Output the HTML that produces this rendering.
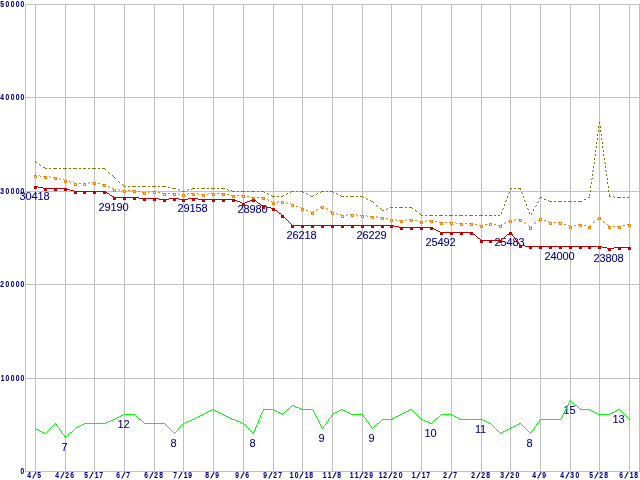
<!DOCTYPE html>
<html lang="en"><head><meta charset="utf-8"><title>chart</title>
<style>
html,body{margin:0;padding:0;background:#fff;overflow:hidden}
svg{display:block}
.ax{font-family:"Liberation Sans",sans-serif;font-weight:bold;font-size:8.4px;fill:#000080;stroke:#000080;stroke-width:0.1px}
.lb{font-family:"Liberation Sans",sans-serif;font-size:11px;fill:#000080;stroke:#000080;stroke-width:0.08px;text-anchor:middle;letter-spacing:-0.12px}
</style></head><body>
<svg width="640" height="480" viewBox="0 0 640 480">
<rect width="640" height="480" fill="#fff"/>
<g fill="#c0c0c0" shape-rendering="crispEdges">
<rect x="25" y="4" width="615" height="1"/><rect x="25" y="97" width="615" height="1"/><rect x="25" y="191" width="615" height="1"/><rect x="25" y="284" width="615" height="1"/><rect x="25" y="378" width="615" height="1"/><rect x="25" y="471" width="615" height="1"/>
<rect x="25" y="4" width="1" height="468"/><rect x="639" y="4" width="1" height="468"/>
<rect x="35" y="4" width="1" height="468"/><rect x="65" y="4" width="1" height="468"/><rect x="94" y="4" width="1" height="468"/><rect x="124" y="4" width="1" height="468"/><rect x="154" y="4" width="1" height="468"/><rect x="183" y="4" width="1" height="468"/><rect x="213" y="4" width="1" height="468"/><rect x="243" y="4" width="1" height="468"/><rect x="273" y="4" width="1" height="468"/><rect x="302" y="4" width="1" height="468"/><rect x="332" y="4" width="1" height="468"/><rect x="362" y="4" width="1" height="468"/><rect x="391" y="4" width="1" height="468"/><rect x="421" y="4" width="1" height="468"/><rect x="451" y="4" width="1" height="468"/><rect x="481" y="4" width="1" height="468"/><rect x="510" y="4" width="1" height="468"/><rect x="540" y="4" width="1" height="468"/><rect x="570" y="4" width="1" height="468"/><rect x="599" y="4" width="1" height="468"/><rect x="629" y="4" width="1" height="468"/>
</g>
<g class="ax">
<text transform="translate(0,7) scale(0.8,1)" y="0"><tspan x="0.29">5</tspan><tspan x="7.04">0</tspan><tspan x="13.29">0</tspan><tspan x="19.54">0</tspan><tspan x="25.79">0</tspan></text><text transform="translate(0,100) scale(0.8,1)" y="0"><tspan x="0.29">4</tspan><tspan x="7.04">0</tspan><tspan x="13.29">0</tspan><tspan x="19.54">0</tspan><tspan x="25.79">0</tspan></text><text transform="translate(0,194) scale(0.8,1)" y="0"><tspan x="0.29">3</tspan><tspan x="7.04">0</tspan><tspan x="13.29">0</tspan><tspan x="19.54">0</tspan><tspan x="25.79">0</tspan></text><text transform="translate(0,287) scale(0.8,1)" y="0"><tspan x="0.29">2</tspan><tspan x="7.04">0</tspan><tspan x="13.29">0</tspan><tspan x="19.54">0</tspan><tspan x="25.79">0</tspan></text><text transform="translate(0,381) scale(0.8,1)" y="0"><tspan x="0.91">1</tspan><tspan x="7.04">0</tspan><tspan x="13.29">0</tspan><tspan x="19.54">0</tspan><tspan x="25.79">0</tspan></text><text transform="translate(0,474) scale(0.8,1)" y="0"><tspan x="25.79">0</tspan></text>
<text transform="translate(0,478) scale(0.8,1)" y="0"><tspan x="34.04">4</tspan><tspan x="40.37" rotate="23" font-size="10">/</tspan><tspan x="46.54">5</tspan></text><text transform="translate(0,478) scale(0.8,1)" y="0"><tspan x="69.04">4</tspan><tspan x="75.37" rotate="23" font-size="10">/</tspan><tspan x="81.54">2</tspan><tspan x="87.79">6</tspan></text><text transform="translate(0,478) scale(0.8,1)" y="0"><tspan x="105.29">5</tspan><tspan x="111.62" rotate="23" font-size="10">/</tspan><tspan x="118.41">1</tspan><tspan x="124.04">7</tspan></text><text transform="translate(0,478) scale(0.8,1)" y="0"><tspan x="145.29">6</tspan><tspan x="151.62" rotate="23" font-size="10">/</tspan><tspan x="157.79">7</tspan></text><text transform="translate(0,478) scale(0.8,1)" y="0"><tspan x="180.29">6</tspan><tspan x="186.62" rotate="23" font-size="10">/</tspan><tspan x="192.79">2</tspan><tspan x="199.04">8</tspan></text><text transform="translate(0,478) scale(0.8,1)" y="0"><tspan x="216.54">7</tspan><tspan x="222.88" rotate="23" font-size="10">/</tspan><tspan x="229.66">1</tspan><tspan x="235.29">9</tspan></text><text transform="translate(0,478) scale(0.8,1)" y="0"><tspan x="256.54">8</tspan><tspan x="262.88" rotate="23" font-size="10">/</tspan><tspan x="269.04">9</tspan></text><text transform="translate(0,478) scale(0.8,1)" y="0"><tspan x="294.04">9</tspan><tspan x="300.38" rotate="23" font-size="10">/</tspan><tspan x="306.54">6</tspan></text><text transform="translate(0,478) scale(0.8,1)" y="0"><tspan x="329.04">9</tspan><tspan x="335.38" rotate="23" font-size="10">/</tspan><tspan x="341.54">2</tspan><tspan x="347.79">7</tspan></text><text transform="translate(0,478) scale(0.8,1)" y="0"><tspan x="362.16">1</tspan><tspan x="368.29">0</tspan><tspan x="374.12" rotate="23" font-size="10">/</tspan><tspan x="380.91">1</tspan><tspan x="386.54">8</tspan></text><text transform="translate(0,478) scale(0.8,1)" y="0"><tspan x="403.41">1</tspan><tspan x="409.66">1</tspan><tspan x="415.38" rotate="23" font-size="10">/</tspan><tspan x="421.54">8</tspan></text><text transform="translate(0,478) scale(0.8,1)" y="0"><tspan x="437.16">1</tspan><tspan x="443.41">1</tspan><tspan x="449.12" rotate="23" font-size="10">/</tspan><tspan x="455.29">2</tspan><tspan x="461.54">9</tspan></text><text transform="translate(0,478) scale(0.8,1)" y="0"><tspan x="473.41">1</tspan><tspan x="479.04">2</tspan><tspan x="485.38" rotate="23" font-size="10">/</tspan><tspan x="491.54">2</tspan><tspan x="498.29">0</tspan></text><text transform="translate(0,478) scale(0.8,1)" y="0"><tspan x="514.66">1</tspan><tspan x="520.38" rotate="23" font-size="10">/</tspan><tspan x="527.16">1</tspan><tspan x="532.79">7</tspan></text><text transform="translate(0,478) scale(0.8,1)" y="0"><tspan x="554.04">2</tspan><tspan x="560.38" rotate="23" font-size="10">/</tspan><tspan x="566.54">7</tspan></text><text transform="translate(0,478) scale(0.8,1)" y="0"><tspan x="589.04">2</tspan><tspan x="595.38" rotate="23" font-size="10">/</tspan><tspan x="601.54">2</tspan><tspan x="607.79">8</tspan></text><text transform="translate(0,478) scale(0.8,1)" y="0"><tspan x="625.29">3</tspan><tspan x="631.62" rotate="23" font-size="10">/</tspan><tspan x="637.79">2</tspan><tspan x="644.54">0</tspan></text><text transform="translate(0,478) scale(0.8,1)" y="0"><tspan x="665.29">4</tspan><tspan x="671.62" rotate="23" font-size="10">/</tspan><tspan x="677.79">9</tspan></text><text transform="translate(0,478) scale(0.8,1)" y="0"><tspan x="700.29">4</tspan><tspan x="706.62" rotate="23" font-size="10">/</tspan><tspan x="712.79">3</tspan><tspan x="719.54">0</tspan></text><text transform="translate(0,478) scale(0.8,1)" y="0"><tspan x="736.54">5</tspan><tspan x="742.87" rotate="23" font-size="10">/</tspan><tspan x="749.04">2</tspan><tspan x="755.29">8</tspan></text><text transform="translate(0,478) scale(0.8,1)" y="0"><tspan x="774.04">6</tspan><tspan x="780.37" rotate="23" font-size="10">/</tspan><tspan x="787.16">1</tspan><tspan x="792.79">8</tspan></text>
</g>
<g class="lb">
<text x="34.5" y="200">30418</text><text x="113.5" y="211">29190</text><text x="192.5" y="212">29158</text><text x="252.5" y="213">28980</text><text x="301.5" y="239">26218</text><text x="371.5" y="239">26229</text><text x="440.5" y="246">25492</text><text x="509.5" y="246">25483</text><text x="559.5" y="260">24000</text><text x="608.5" y="262">23808</text><text x="64.5" y="451">7</text><text x="123.5" y="428">12</text><text x="173.5" y="447">8</text><text x="252.5" y="447">8</text><text x="321.5" y="442">9</text><text x="371.5" y="442">9</text><text x="430.5" y="437">10</text><text x="480.5" y="433">11</text><text x="529.5" y="447">8</text><text x="569.5" y="414">15</text><text x="618.5" y="423">13</text>
</g>
<path fill="none" stroke="#00ff00" stroke-width="1" shape-rendering="crispEdges" d="M570 400.5h1M569 401.5h1M571 401.5h1M569 402.5h1M572 402.5h1M568 403.5h1M573 403.5h1M568 404.5h1M574 404.5h1M292 405.5h2M567 405.5h1M575 405.5h2M291 406.5h1M294 406.5h2M567 406.5h1M577 406.5h1M290 407.5h1M296 407.5h3M566 407.5h1M578 407.5h1M289 408.5h1M299 408.5h2M566 408.5h1M579 408.5h1M212 409.5h2M263 409.5h11M287 409.5h2M301 409.5h12M341 409.5h2M410 409.5h2M565 409.5h1M580 409.5h10M618 409.5h2M210 410.5h2M214 410.5h2M263 410.5h1M274 410.5h2M286 410.5h1M313 410.5h1M339 410.5h2M343 410.5h2M408 410.5h2M412 410.5h1M565 410.5h1M590 410.5h2M616 410.5h2M620 410.5h1M208 411.5h2M216 411.5h2M262 411.5h1M276 411.5h2M285 411.5h1M313 411.5h1M337 411.5h2M345 411.5h2M406 411.5h2M413 411.5h1M564 411.5h1M592 411.5h2M614 411.5h2M621 411.5h1M206 412.5h2M218 412.5h2M262 412.5h1M278 412.5h2M284 412.5h1M314 412.5h1M335 412.5h2M347 412.5h2M404 412.5h2M414 412.5h1M564 412.5h1M594 412.5h2M612 412.5h2M622 412.5h1M204 413.5h2M220 413.5h2M261 413.5h1M280 413.5h2M283 413.5h1M314 413.5h1M333 413.5h2M349 413.5h2M402 413.5h2M415 413.5h1M563 413.5h1M596 413.5h2M610 413.5h2M623 413.5h1M123 414.5h12M202 414.5h2M222 414.5h2M261 414.5h1M282 414.5h1M315 414.5h1M332 414.5h1M351 414.5h12M400 414.5h2M416 414.5h1M441 414.5h11M563 414.5h1M598 414.5h12M624 414.5h1M121 415.5h2M135 415.5h1M200 415.5h2M224 415.5h2M260 415.5h1M315 415.5h1M331 415.5h1M363 415.5h1M398 415.5h2M417 415.5h1M440 415.5h1M452 415.5h2M562 415.5h1M625 415.5h1M119 416.5h2M136 416.5h1M198 416.5h2M226 416.5h2M260 416.5h1M316 416.5h1M331 416.5h1M363 416.5h1M396 416.5h2M418 416.5h1M439 416.5h1M454 416.5h2M562 416.5h1M626 416.5h1M117 417.5h2M137 417.5h1M196 417.5h2M228 417.5h2M260 417.5h1M316 417.5h1M330 417.5h1M364 417.5h1M394 417.5h2M419 417.5h1M438 417.5h1M456 417.5h2M561 417.5h1M627 417.5h1M115 418.5h2M138 418.5h1M194 418.5h2M230 418.5h2M259 418.5h1M317 418.5h1M329 418.5h1M365 418.5h1M392 418.5h2M420 418.5h1M436 418.5h2M458 418.5h2M561 418.5h1M628 418.5h1M113 419.5h2M139 419.5h2M192 419.5h2M232 419.5h3M259 419.5h1M317 419.5h1M328 419.5h1M366 419.5h1M382 419.5h10M421 419.5h2M435 419.5h1M460 419.5h23M540 419.5h21M629 419.5h1M111 420.5h2M141 420.5h1M190 420.5h2M235 420.5h2M258 420.5h1M318 420.5h1M328 420.5h1M366 420.5h1M381 420.5h1M423 420.5h2M434 420.5h1M483 420.5h2M539 420.5h1M108 421.5h3M142 421.5h1M187 421.5h3M237 421.5h3M258 421.5h1M318 421.5h1M327 421.5h1M367 421.5h1M380 421.5h1M425 421.5h3M433 421.5h1M485 421.5h2M539 421.5h1M106 422.5h2M143 422.5h1M185 422.5h2M240 422.5h2M258 422.5h1M319 422.5h1M326 422.5h1M368 422.5h1M379 422.5h1M428 422.5h2M432 422.5h1M487 422.5h2M538 422.5h1M55 423.5h1M84 423.5h22M144 423.5h21M183 423.5h2M242 423.5h2M257 423.5h1M319 423.5h1M326 423.5h1M368 423.5h1M377 423.5h2M430 423.5h2M489 423.5h2M519 423.5h2M537 423.5h1M54 424.5h1M56 424.5h1M82 424.5h2M165 424.5h1M182 424.5h1M244 424.5h1M257 424.5h1M320 424.5h1M325 424.5h1M369 424.5h1M376 424.5h1M491 424.5h1M517 424.5h2M521 424.5h1M536 424.5h1M53 425.5h1M56 425.5h1M80 425.5h2M166 425.5h1M181 425.5h1M245 425.5h1M256 425.5h1M320 425.5h1M324 425.5h1M370 425.5h1M375 425.5h1M492 425.5h1M515 425.5h2M522 425.5h1M536 425.5h1M52 426.5h1M57 426.5h1M78 426.5h2M167 426.5h1M180 426.5h1M246 426.5h1M256 426.5h1M321 426.5h1M323 426.5h1M371 426.5h1M374 426.5h1M493 426.5h1M513 426.5h2M523 426.5h1M535 426.5h1M51 427.5h1M58 427.5h1M76 427.5h2M168 427.5h1M179 427.5h1M247 427.5h1M255 427.5h1M321 427.5h1M323 427.5h1M371 427.5h1M373 427.5h1M494 427.5h1M511 427.5h2M524 427.5h1M534 427.5h1M35 428.5h1M50 428.5h1M59 428.5h1M75 428.5h1M169 428.5h1M178 428.5h1M248 428.5h1M255 428.5h1M322 428.5h1M372 428.5h1M495 428.5h1M509 428.5h2M525 428.5h1M534 428.5h1M36 429.5h2M49 429.5h1M59 429.5h1M74 429.5h1M170 429.5h1M178 429.5h1M249 429.5h1M255 429.5h1M496 429.5h1M507 429.5h2M526 429.5h1M533 429.5h1M38 430.5h2M48 430.5h1M60 430.5h1M73 430.5h1M171 430.5h1M177 430.5h1M250 430.5h1M254 430.5h1M497 430.5h1M505 430.5h2M527 430.5h1M532 430.5h1M40 431.5h2M47 431.5h1M61 431.5h1M72 431.5h1M172 431.5h1M176 431.5h1M251 431.5h1M254 431.5h1M498 431.5h1M503 431.5h2M528 431.5h1M531 431.5h1M42 432.5h2M46 432.5h1M61 432.5h1M70 432.5h2M173 432.5h1M175 432.5h1M252 432.5h2M499 432.5h1M501 432.5h2M529 432.5h1M531 432.5h1M44 433.5h2M62 433.5h1M69 433.5h1M174 433.5h1M253 433.5h1M500 433.5h1M530 433.5h1M63 434.5h1M68 434.5h1M64 435.5h1M67 435.5h1M64 436.5h1M66 436.5h1M65 437.5h1"/>
<path fill="none" stroke="#808000" stroke-width="1" shape-rendering="crispEdges" d="M599 122.5h1M599 123.5h1M598 126.5h1M600 126.5h1M598 127.5h1M600 127.5h1M598 130.5h1M600 130.5h1M598 131.5h1M600 131.5h1M597 134.5h1M601 134.5h1M597 135.5h1M601 135.5h1M597 138.5h1M601 138.5h1M597 139.5h1M601 139.5h1M596 142.5h1M602 142.5h1M596 143.5h1M602 143.5h1M596 146.5h1M602 146.5h1M596 147.5h1M602 147.5h1M595 150.5h1M603 150.5h1M595 151.5h1M603 151.5h1M595 154.5h1M603 154.5h1M595 155.5h1M603 155.5h1M594 158.5h1M604 158.5h1M594 159.5h1M604 159.5h1M35 161.5h1M36 162.5h1M594 162.5h1M604 162.5h1M594 163.5h1M605 163.5h1M39 164.5h1M40 165.5h1M593 166.5h1M605 166.5h1M43 167.5h2M593 167.5h1M605 167.5h1M45 168.5h2M49 168.5h2M53 168.5h4M59 168.5h2M63 168.5h4M69 168.5h2M73 168.5h4M79 168.5h2M83 168.5h3M88 168.5h2M92 168.5h4M98 168.5h2M102 168.5h3M105 169.5h1M593 170.5h1M605 170.5h1M592 171.5h1M606 171.5h1M108 172.5h1M109 173.5h1M592 174.5h1M606 174.5h1M112 175.5h1M592 175.5h1M606 175.5h1M113 176.5h1M114 177.5h1M115 178.5h1M592 178.5h1M607 178.5h1M591 179.5h1M607 179.5h1M118 181.5h1M119 182.5h1M591 182.5h1M607 182.5h1M591 183.5h1M607 183.5h1M122 184.5h1M123 185.5h1M124 186.5h2M128 186.5h2M132 186.5h4M138 186.5h2M142 186.5h4M148 186.5h2M152 186.5h4M158 186.5h2M162 186.5h4M590 186.5h1M608 186.5h1M168 187.5h2M590 187.5h1M608 187.5h1M172 188.5h4M192 188.5h3M197 188.5h2M201 188.5h4M207 188.5h2M211 188.5h4M217 188.5h2M221 188.5h4M510 188.5h2M514 188.5h2M518 188.5h3M178 189.5h1M188 189.5h1M191 189.5h1M227 189.5h1M510 189.5h1M520 189.5h1M179 190.5h1M187 190.5h1M228 190.5h1M231 190.5h1M590 190.5h1M608 190.5h1M182 191.5h3M232 191.5h3M237 191.5h2M241 191.5h4M247 191.5h2M251 191.5h4M257 191.5h2M261 191.5h3M291 191.5h3M296 191.5h2M300 191.5h3M321 191.5h3M326 191.5h2M330 191.5h3M590 191.5h1M608 191.5h1M264 192.5h1M290 192.5h1M303 192.5h1M320 192.5h1M333 192.5h1M509 192.5h1M521 192.5h1M267 193.5h1M287 193.5h1M306 193.5h1M317 193.5h1M336 193.5h1M508 193.5h1M522 193.5h1M268 194.5h1M286 194.5h1M307 194.5h1M316 194.5h1M337 194.5h1M589 194.5h1M609 194.5h1M271 195.5h1M283 195.5h1M310 195.5h1M313 195.5h1M340 195.5h1M589 195.5h1M609 195.5h1M272 196.5h3M277 196.5h2M281 196.5h2M311 196.5h2M341 196.5h3M346 196.5h2M350 196.5h4M356 196.5h2M360 196.5h3M507 196.5h1M523 196.5h1M609 196.5h2M613 196.5h1M363 197.5h1M507 197.5h1M523 197.5h1M540 197.5h2M588 197.5h2M614 197.5h1M617 197.5h4M623 197.5h2M627 197.5h2M366 198.5h1M539 198.5h1M367 199.5h1M544 199.5h2M584 199.5h2M370 200.5h1M506 200.5h1M524 200.5h1M548 200.5h1M371 201.5h2M505 201.5h1M525 201.5h1M538 201.5h1M549 201.5h3M554 201.5h2M558 201.5h4M564 201.5h2M568 201.5h4M574 201.5h2M578 201.5h4M373 202.5h1M537 202.5h1M504 204.5h1M526 204.5h1M376 205.5h1M504 205.5h1M526 205.5h1M536 205.5h1M377 206.5h1M535 206.5h1M390 207.5h3M395 207.5h2M399 207.5h4M405 207.5h2M409 207.5h3M380 208.5h1M387 208.5h1M412 208.5h1M503 208.5h1M527 208.5h1M381 209.5h1M386 209.5h1M502 209.5h1M528 209.5h1M533 209.5h1M382 210.5h2M415 210.5h1M533 210.5h1M416 211.5h1M501 212.5h1M529 212.5h1M419 213.5h1M501 213.5h1M529 213.5h1M531 213.5h1M420 214.5h1M531 214.5h1M421 215.5h2M425 215.5h2M429 215.5h4M435 215.5h2M439 215.5h4M445 215.5h2M449 215.5h4M455 215.5h2M459 215.5h4M465 215.5h2M469 215.5h4M475 215.5h2M479 215.5h4M485 215.5h2M489 215.5h3M494 215.5h2M498 215.5h2"/>
<path fill="none" stroke="#ff8000" stroke-width="1" shape-rendering="crispEdges" d="M35 175.5h2M39 175.5h1M40 176.5h1M43 176.5h4M49 176.5h1M50 177.5h1M53 177.5h4M59 178.5h1M60 179.5h1M63 179.5h1M64 180.5h3M69 181.5h1M70 182.5h1M73 182.5h1M89 182.5h1M92 182.5h4M74 183.5h3M79 183.5h2M83 183.5h3M88 183.5h1M98 183.5h2M102 184.5h3M105 185.5h1M108 186.5h1M109 187.5h1M112 188.5h1M113 189.5h3M118 189.5h1M119 190.5h1M122 190.5h4M128 190.5h2M132 190.5h4M138 191.5h2M149 191.5h1M152 191.5h4M142 192.5h4M148 192.5h1M158 192.5h2M162 193.5h4M168 193.5h2M172 193.5h4M178 193.5h1M188 193.5h1M191 193.5h4M197 193.5h1M208 193.5h1M211 193.5h4M217 193.5h2M221 193.5h4M179 194.5h1M182 194.5h3M187 194.5h1M198 194.5h1M201 194.5h4M207 194.5h1M227 194.5h2M231 195.5h4M237 195.5h2M241 195.5h4M247 196.5h2M251 197.5h4M257 197.5h2M261 197.5h3M264 198.5h1M267 199.5h1M268 200.5h1M271 201.5h1M278 201.5h1M281 201.5h3M272 202.5h3M277 202.5h1M286 202.5h1M287 203.5h1M290 203.5h1M291 204.5h3M296 206.5h2M322 206.5h1M300 207.5h1M320 207.5h2M323 207.5h1M301 208.5h3M326 208.5h1M317 209.5h1M327 209.5h1M306 210.5h2M316 210.5h1M310 211.5h1M313 211.5h1M330 211.5h2M311 212.5h2M332 212.5h2M336 213.5h1M337 214.5h1M340 214.5h1M347 214.5h1M350 214.5h4M356 214.5h1M341 215.5h3M346 215.5h1M357 215.5h1M360 215.5h4M366 215.5h1M367 216.5h1M370 216.5h4M376 216.5h1M377 217.5h1M380 217.5h4M599 217.5h1M386 218.5h2M540 218.5h2M598 218.5h1M600 218.5h1M390 219.5h3M395 219.5h1M406 219.5h1M409 219.5h4M515 219.5h1M518 219.5h3M539 219.5h1M597 219.5h1M396 220.5h1M399 220.5h4M405 220.5h1M415 220.5h2M426 220.5h1M429 220.5h4M509 220.5h3M514 220.5h1M521 220.5h1M538 220.5h1M544 220.5h2M419 221.5h4M425 221.5h1M435 221.5h2M508 221.5h1M548 221.5h1M594 221.5h1M603 221.5h1M439 222.5h4M445 222.5h2M449 222.5h4M455 222.5h1M505 222.5h1M524 222.5h1M535 222.5h1M549 222.5h3M554 222.5h2M558 222.5h4M593 222.5h1M604 222.5h1M456 223.5h1M459 223.5h4M465 223.5h2M469 223.5h4M489 223.5h3M504 223.5h1M525 223.5h1M534 223.5h1M475 224.5h2M485 224.5h2M494 224.5h2M501 224.5h1M564 224.5h2M578 224.5h4M607 224.5h1M627 224.5h2M479 225.5h4M498 225.5h3M528 225.5h1M568 225.5h1M574 225.5h2M584 225.5h2M590 225.5h1M608 225.5h1M623 225.5h2M529 226.5h1M531 226.5h1M569 226.5h3M588 226.5h2M609 226.5h2M613 226.5h2M617 226.5h4M530 227.5h1"/>
<g fill="#fff" stroke="#ff8000" stroke-width="1" shape-rendering="crispEdges">
<rect x="34.5" y="175.5" width="2" height="2"/><rect x="44.5" y="176.5" width="2" height="2"/><rect x="54.5" y="177.5" width="2" height="2"/><rect x="64.5" y="180.5" width="2" height="2"/><rect x="74.5" y="183.5" width="2" height="2"/><rect x="83.5" y="183.5" width="2" height="2"/><rect x="93.5" y="182.5" width="2" height="2"/><rect x="103.5" y="184.5" width="2" height="2"/><rect x="113.5" y="189.5" width="2" height="2"/><rect x="123.5" y="190.5" width="2" height="2"/><rect x="133.5" y="190.5" width="2" height="2"/><rect x="143.5" y="192.5" width="2" height="2"/><rect x="153.5" y="191.5" width="2" height="2"/><rect x="163.5" y="193.5" width="2" height="2"/><rect x="173.5" y="193.5" width="2" height="2"/><rect x="182.5" y="194.5" width="2" height="2"/><rect x="192.5" y="193.5" width="2" height="2"/><rect x="202.5" y="194.5" width="2" height="2"/><rect x="212.5" y="193.5" width="2" height="2"/><rect x="222.5" y="193.5" width="2" height="2"/><rect x="232.5" y="195.5" width="2" height="2"/><rect x="242.5" y="195.5" width="2" height="2"/><rect x="252.5" y="197.5" width="2" height="2"/><rect x="262.5" y="197.5" width="2" height="2"/><rect x="272.5" y="202.5" width="2" height="2"/><rect x="281.5" y="201.5" width="2" height="2"/><rect x="291.5" y="204.5" width="2" height="2"/><rect x="301.5" y="208.5" width="2" height="2"/><rect x="311.5" y="212.5" width="2" height="2"/><rect x="321.5" y="206.5" width="2" height="2"/><rect x="331.5" y="212.5" width="2" height="2"/><rect x="341.5" y="215.5" width="2" height="2"/><rect x="351.5" y="214.5" width="2" height="2"/><rect x="361.5" y="215.5" width="2" height="2"/><rect x="371.5" y="216.5" width="2" height="2"/><rect x="381.5" y="217.5" width="2" height="2"/><rect x="390.5" y="219.5" width="2" height="2"/><rect x="400.5" y="220.5" width="2" height="2"/><rect x="410.5" y="219.5" width="2" height="2"/><rect x="420.5" y="221.5" width="2" height="2"/><rect x="430.5" y="220.5" width="2" height="2"/><rect x="440.5" y="222.5" width="2" height="2"/><rect x="450.5" y="222.5" width="2" height="2"/><rect x="460.5" y="223.5" width="2" height="2"/><rect x="470.5" y="223.5" width="2" height="2"/><rect x="480.5" y="225.5" width="2" height="2"/><rect x="489.5" y="223.5" width="2" height="2"/><rect x="499.5" y="225.5" width="2" height="2"/><rect x="509.5" y="220.5" width="2" height="2"/><rect x="519.5" y="219.5" width="2" height="2"/><rect x="529.5" y="227.5" width="2" height="2"/><rect x="539.5" y="218.5" width="2" height="2"/><rect x="549.5" y="222.5" width="2" height="2"/><rect x="559.5" y="222.5" width="2" height="2"/><rect x="569.5" y="226.5" width="2" height="2"/><rect x="579.5" y="224.5" width="2" height="2"/><rect x="588.5" y="226.5" width="2" height="2"/><rect x="598.5" y="217.5" width="2" height="2"/><rect x="608.5" y="226.5" width="2" height="2"/><rect x="618.5" y="226.5" width="2" height="2"/><rect x="628.5" y="224.5" width="2" height="2"/>
</g>
<path fill="none" stroke="#c00000" stroke-width="1" shape-rendering="crispEdges" d="M35 186.5h3M38 187.5h5M43 188.5h24M67 189.5h3M70 190.5h4M74 191.5h31M105 192.5h2M107 193.5h2M109 194.5h1M110 195.5h2M112 196.5h2M114 197.5h25M139 198.5h20M169 198.5h10M188 198.5h10M159 199.5h10M179 199.5h9M198 199.5h37M252 199.5h2M235 200.5h2M250 200.5h2M254 200.5h2M237 201.5h3M247 201.5h3M256 201.5h1M240 202.5h2M245 202.5h2M257 202.5h1M242 203.5h3M258 203.5h2M260 204.5h1M261 205.5h2M263 206.5h3M266 207.5h5M271 208.5h3M274 209.5h1M275 210.5h2M277 211.5h1M278 212.5h1M279 213.5h2M281 214.5h1M282 215.5h1M283 216.5h1M284 217.5h1M285 218.5h1M286 219.5h1M287 220.5h1M288 221.5h1M289 222.5h1M290 223.5h1M291 224.5h1M292 225.5h102M394 226.5h5M399 227.5h33M432 228.5h2M434 229.5h2M436 230.5h2M438 231.5h2M440 232.5h32M510 232.5h1M472 233.5h1M509 233.5h1M511 233.5h1M473 234.5h2M507 234.5h2M512 234.5h1M475 235.5h1M506 235.5h1M512 235.5h1M476 236.5h1M505 236.5h1M513 236.5h1M477 237.5h1M504 237.5h1M514 237.5h1M478 238.5h2M502 238.5h2M515 238.5h1M480 239.5h1M501 239.5h1M515 239.5h1M481 240.5h20M516 240.5h1M517 241.5h1M518 242.5h1M518 243.5h1M519 244.5h1M520 245.5h5M525 246.5h77M602 247.5h5M614 247.5h16M607 248.5h7"/>
<g fill="#c00000" shape-rendering="crispEdges">
<rect x="34" y="186" width="3" height="3"/><rect x="44" y="188" width="3" height="3"/><rect x="54" y="188" width="3" height="3"/><rect x="64" y="188" width="3" height="3"/><rect x="74" y="191" width="3" height="3"/><rect x="83" y="191" width="3" height="3"/><rect x="93" y="191" width="3" height="3"/><rect x="103" y="191" width="3" height="3"/><rect x="113" y="197" width="3" height="3"/><rect x="123" y="197" width="3" height="3"/><rect x="133" y="197" width="3" height="3"/><rect x="143" y="198" width="3" height="3"/><rect x="153" y="198" width="3" height="3"/><rect x="163" y="199" width="3" height="3"/><rect x="173" y="198" width="3" height="3"/><rect x="182" y="199" width="3" height="3"/><rect x="192" y="198" width="3" height="3"/><rect x="202" y="199" width="3" height="3"/><rect x="212" y="199" width="3" height="3"/><rect x="222" y="199" width="3" height="3"/><rect x="232" y="199" width="3" height="3"/><rect x="242" y="203" width="3" height="3"/><rect x="252" y="199" width="3" height="3"/><rect x="262" y="206" width="3" height="3"/><rect x="272" y="208" width="3" height="3"/><rect x="281" y="215" width="3" height="3"/><rect x="291" y="225" width="3" height="3"/><rect x="301" y="225" width="3" height="3"/><rect x="311" y="225" width="3" height="3"/><rect x="321" y="225" width="3" height="3"/><rect x="331" y="225" width="3" height="3"/><rect x="341" y="225" width="3" height="3"/><rect x="351" y="225" width="3" height="3"/><rect x="361" y="225" width="3" height="3"/><rect x="371" y="225" width="3" height="3"/><rect x="381" y="225" width="3" height="3"/><rect x="390" y="225" width="3" height="3"/><rect x="400" y="227" width="3" height="3"/><rect x="410" y="227" width="3" height="3"/><rect x="420" y="227" width="3" height="3"/><rect x="430" y="227" width="3" height="3"/><rect x="440" y="232" width="3" height="3"/><rect x="450" y="232" width="3" height="3"/><rect x="460" y="232" width="3" height="3"/><rect x="470" y="232" width="3" height="3"/><rect x="480" y="240" width="3" height="3"/><rect x="489" y="240" width="3" height="3"/><rect x="499" y="240" width="3" height="3"/><rect x="509" y="232" width="3" height="3"/><rect x="519" y="245" width="3" height="3"/><rect x="529" y="246" width="3" height="3"/><rect x="539" y="246" width="3" height="3"/><rect x="549" y="246" width="3" height="3"/><rect x="559" y="246" width="3" height="3"/><rect x="569" y="246" width="3" height="3"/><rect x="579" y="246" width="3" height="3"/><rect x="588" y="246" width="3" height="3"/><rect x="598" y="246" width="3" height="3"/><rect x="608" y="248" width="3" height="3"/><rect x="618" y="247" width="3" height="3"/><rect x="628" y="247" width="3" height="3"/>
</g>
</svg>
</body></html>
